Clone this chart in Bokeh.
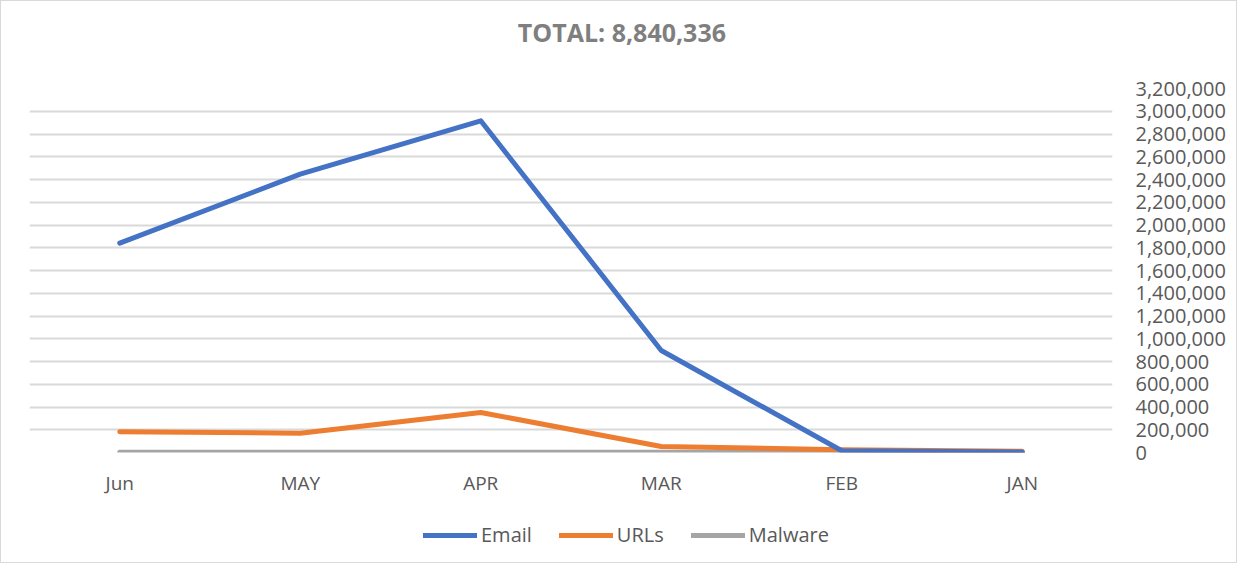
from bokeh.plotting import figure
from bokeh.layouts import column
from bokeh.models import FactorRange, Range1d, Legend, LegendItem, NumeralTickFormatter, FixedTicker, Label
from bokeh.embed import file_html
from bokeh.resources import INLINE

months = ["Jun", "MAY", "APR", "MAR", "FEB", "JAN"]
email = [1840000, 2447000, 2916000, 897000, 15000, 5000]
urls = [182000, 170000, 352000, 53000, 25000, 10000]
malware = [3000, 3000, 3000, 3000, 3000, 3000]
y_ticks = list(range(0, 3200001, 200000))
title_text = "TOTAL: 8,840,336"
series_names = ["Email", "URLs", "Malware"]
series_colors = ["#4472C4", "#ED7D31", "#A5A5A5"]

FONT = "Open Sans"
GRAY = "#595959"
W = 1235

# title figure
tf = figure(width=W, height=60, output_backend="svg", toolbar_location=None,
            x_range=Range1d(0, 1), y_range=Range1d(0, 1),
            x_axis_location=None, y_axis_location=None)
tf.grid.visible = False
tf.outline_line_color = None
tf.min_border = 0
tf.add_layout(Label(x=0.547, y=0.5, text=title_text, text_align="center", text_baseline="middle",
                    text_font=FONT, text_font_size="25px", text_font_style="bold",
                    text_color="#7f7f7f"))

# main figure
p = figure(x_range=FactorRange(*months), y_range=Range1d(0, 3200000),
           width=W, height=440, output_backend="svg", toolbar_location=None,
           y_axis_location="right")
p.x_range.range_padding = 0
p.min_border_left = 28
p.min_border_right = 124
p.min_border_top = 27
p.min_border_bottom = 49
p.outline_line_color = None

p.xgrid.grid_line_color = None
p.ygrid.grid_line_color = "#d9d9d9"
p.ygrid.grid_line_width = 2
p.ygrid.ticker = FixedTicker(ticks=y_ticks)

ya = p.yaxis[0]
ya.ticker = FixedTicker(ticks=y_ticks)
ya.formatter = NumeralTickFormatter(format="0,0")
ya.axis_line_color = None
ya.major_tick_line_color = None
ya.minor_tick_line_color = None
ya.major_label_text_font = FONT
ya.major_label_text_font_size = "20px"
ya.major_label_text_color = GRAY
ya.major_label_standoff = 17

xa = p.xaxis[0]
xa.axis_line_color = None
xa.major_tick_line_color = None
xa.minor_tick_line_color = None
xa.major_label_text_font = FONT
xa.major_label_text_font_size = "19px"
xa.major_label_text_color = GRAY
xa.major_label_standoff = 11

p.line(months, malware, line_color=series_colors[2], line_width=5, line_cap="round", line_join="round")
p.line(months, urls, line_color=series_colors[1], line_width=5, line_cap="round", line_join="round")
p.line(months, email, line_color=series_colors[0], line_width=5, line_cap="round", line_join="round")

# legend figure
lf = figure(width=W, height=61, output_backend="svg", toolbar_location=None,
            x_range=Range1d(0, 1), y_range=Range1d(0, 1),
            x_axis_location=None, y_axis_location=None)
lf.grid.visible = False
lf.outline_line_color = None
lf.min_border = 0
items = []
for name, col in zip(series_names, series_colors):
    r = lf.line([-5, -4], [-5, -4], line_color=col, line_width=5, line_cap="round")
    items.append(LegendItem(label=name, renderers=[r]))
legend = Legend(items=items, orientation="horizontal", location=(394, 14))
legend.label_text_font = FONT
legend.label_text_font_size = "20px"
legend.label_text_color = GRAY
legend.glyph_width = 54
legend.label_standoff = 4
legend.spacing = 27
legend.border_line_color = None
legend.background_fill_alpha = 0
lf.add_layout(legend, "center")

layout = column(tf, p, lf, spacing=0)
layout.styles = {"border": "1px solid #d9d9d9"}

open("out.html", "w").write(file_html(layout, INLINE))
